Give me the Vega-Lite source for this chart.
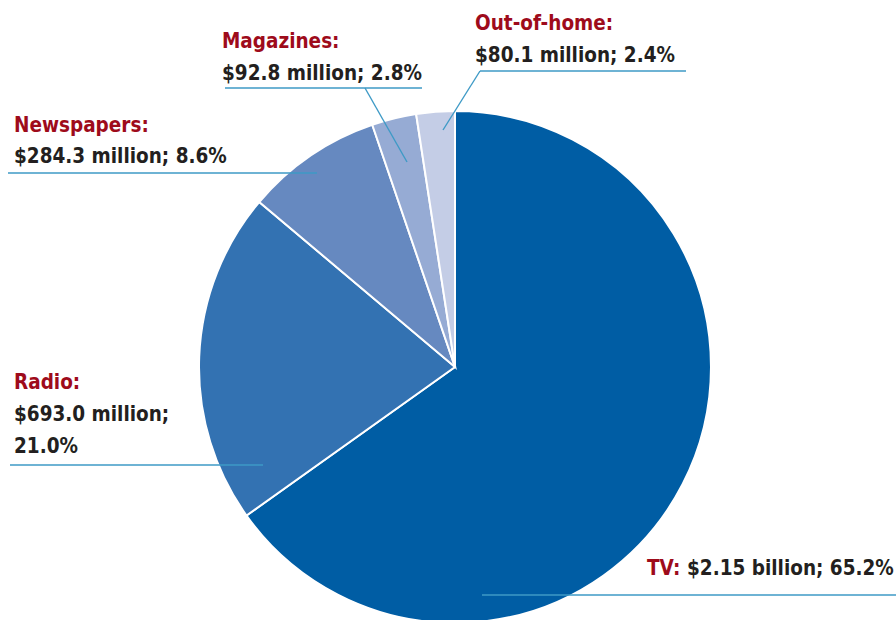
{
  "$schema": "https://vega.github.io/schema/vega-lite/v6.json",
  "width": 896,
  "height": 620,
  "autosize": "none",
  "padding": 0,
  "background": "white",
  "config": {"view": {"stroke": null}},
  "datasets": {
    "pie": [
      {"medium": "TV", "spend": 2150.0, "rank": 1},
      {"medium": "Radio", "spend": 693.0, "rank": 2},
      {"medium": "Newspapers", "spend": 284.3, "rank": 3},
      {"medium": "Magazines", "spend": 92.8, "rank": 4},
      {"medium": "Out-of-home", "spend": 80.1, "rank": 5}
    ],
    "leaders": [
      {"medium": "Magazines", "x": 225, "y": 88, "x2": 422, "y2": 88},
      {"medium": "Magazines", "x": 365, "y": 88, "x2": 407, "y2": 162},
      {"medium": "Newspapers", "x": 8, "y": 173, "x2": 317, "y2": 173},
      {"medium": "Out-of-home", "x": 480, "y": 71, "x2": 686, "y2": 71},
      {"medium": "Out-of-home", "x": 480, "y": 71, "x2": 443, "y2": 130},
      {"medium": "Radio", "x": 10, "y": 465, "x2": 263, "y2": 465},
      {"medium": "TV", "x": 482, "y": 595, "x2": 896, "y2": 595}
    ],
    "labels": [
      {"text": "Magazines:", "role": "name", "x": 222, "y": 48},
      {"text": "$92.8 million; 2.8%", "role": "value", "x": 222, "y": 80},
      {"text": "Newspapers:", "role": "name", "x": 14, "y": 132},
      {"text": "$284.3 million; 8.6%", "role": "value", "x": 14, "y": 163},
      {"text": "Out-of-home:", "role": "name", "x": 475, "y": 30},
      {"text": "$80.1 million; 2.4%", "role": "value", "x": 475, "y": 62},
      {"text": "Radio:", "role": "name", "x": 14, "y": 389},
      {"text": "$693.0 million;", "role": "value", "x": 14, "y": 421},
      {"text": "21.0%", "role": "value", "x": 14, "y": 453},
      {"text": "TV:", "role": "name", "x": 647, "y": 575},
      {"text": "$2.15 billion; 65.2%", "role": "value", "x": 687, "y": 575}
    ]
  },
  "layer": [
    {
      "data": {"name": "pie"},
      "mark": {"type": "arc", "outerRadius": 256, "stroke": "white", "strokeWidth": 2},
      "encoding": {
        "x": {"datum": 455, "type": "quantitative", "scale": {"domain": [0, 896], "nice": false, "zero": false}, "axis": null},
        "y": {"datum": 367, "type": "quantitative", "scale": {"domain": [0, 620], "nice": false, "zero": false, "reverse": true}, "axis": null},
        "theta": {"field": "spend", "type": "quantitative", "stack": true},
        "order": {"field": "rank", "type": "quantitative"},
        "color": {
          "field": "medium",
          "type": "nominal",
          "scale": {
            "domain": ["TV", "Radio", "Newspapers", "Magazines", "Out-of-home"],
            "range": ["#005DA4", "#3372B2", "#6689C0", "#96ABD4", "#C4CDE6"]
          },
          "legend": null
        }
      }
    },
    {
      "data": {"name": "leaders"},
      "mark": {"type": "rule", "color": "#3E9AC6", "strokeWidth": 1.4},
      "encoding": {
        "x": {"field": "x", "type": "quantitative", "axis": null},
        "y": {"field": "y", "type": "quantitative", "axis": null},
        "x2": {"field": "x2"},
        "y2": {"field": "y2"}
      }
    },
    {
      "data": {"name": "labels"},
      "mark": {
        "type": "text",
        "align": "left",
        "baseline": "alphabetic",
        "font": "DejaVu Sans Condensed, sans-serif",
        "fontWeight": "bold",
        "fontSize": 20.5
      },
      "encoding": {
        "x": {"field": "x", "type": "quantitative", "axis": null},
        "y": {"field": "y", "type": "quantitative", "axis": null},
        "text": {"field": "text"},
        "color": {
          "field": "role",
          "type": "nominal",
          "scale": {"domain": ["name", "value"], "range": ["#9E0B1B", "#231F20"]},
          "legend": null
        }
      }
    }
  ],
  "resolve": {"scale": {"color": "independent"}}
}
